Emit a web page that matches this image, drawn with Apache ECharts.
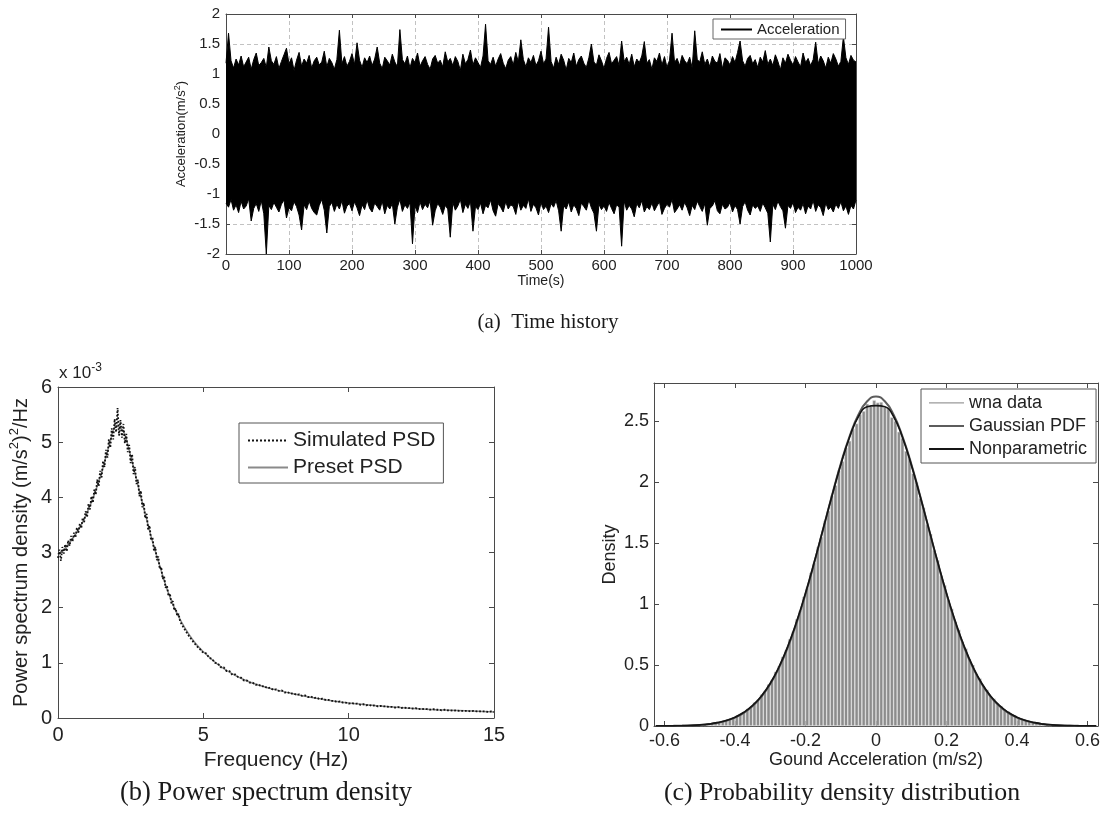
<!DOCTYPE html>
<html>
<head>
<meta charset="utf-8">
<title>Ground acceleration: time history, PSD, PDF</title>
<script src="https://cdn.jsdelivr.net/npm/echarts@6/dist/echarts.min.js"></script>
<style>
  html, body { margin: 0; padding: 0; background: #fff; }
  #chart { width: 1101px; height: 819px; }
</style>
</head>
<body>
<div id="chart"></div>
<script>
// (a) time history, read as upper / lower envelope every 4 s
const timeStep = 4;
const accUpper = [
  1.18,1.68,1.22,1.10,1.25,1.15,1.30,1.12,1.20,1.28,
  1.08,1.24,1.35,1.14,1.19,1.26,1.11,1.45,1.22,1.16,
  1.29,1.09,1.21,1.32,1.43,1.17,1.27,1.06,1.23,1.36,
  1.13,1.25,1.18,1.31,1.10,1.22,1.28,1.15,1.20,1.38,
  1.12,1.26,1.19,1.08,1.24,1.73,1.17,1.29,1.13,1.21,
  1.34,1.16,1.52,1.23,1.11,1.27,1.19,1.30,1.14,1.25,
  1.45,1.18,1.09,1.28,1.22,1.15,1.33,1.20,1.12,1.74,
  1.24,1.17,1.30,1.10,1.26,1.19,1.35,1.13,1.22,1.29,
  1.16,1.08,1.25,1.31,1.18,1.23,1.12,1.37,1.20,1.26,
  1.14,1.29,1.21,1.06,1.33,1.17,1.24,1.40,1.15,1.27,
  1.19,1.11,1.30,1.83,1.22,1.16,1.28,1.13,1.25,1.34,
  1.18,1.09,1.23,1.29,1.15,1.36,1.20,1.57,1.24,1.12,
  1.27,1.19,1.31,1.14,1.22,1.38,1.17,1.25,1.78,1.21,
  1.10,1.28,1.16,1.33,1.23,1.07,1.26,1.19,1.35,1.13,
  1.24,1.30,1.18,1.11,1.27,1.50,1.20,1.15,1.32,1.22,
  1.09,1.26,1.36,1.17,1.23,1.29,1.14,1.55,1.21,1.28,
  1.16,1.33,1.12,1.25,1.19,1.30,1.54,1.18,1.24,1.08,
  1.27,1.21,1.35,1.15,1.29,1.11,1.23,1.68,1.19,1.26,
  1.14,1.31,1.22,1.17,1.28,1.10,1.72,1.24,1.20,1.37,
  1.16,1.25,1.12,1.30,1.21,1.18,1.34,1.09,1.27,1.23,
  1.15,1.29,1.19,1.36,1.55,1.22,1.13,1.26,1.31,1.17,
  1.24,1.11,1.28,1.20,1.39,1.16,1.25,1.14,1.32,1.21,
  1.07,1.27,1.18,1.33,1.23,1.15,1.29,1.20,1.12,1.35,
  1.19,1.26,1.14,1.24,1.53,1.17,1.30,1.22,1.10,1.28,
  1.18,1.34,1.25,1.13,1.21,1.62,1.27,1.16,1.31,1.23,
  1.20
];
const accLower = [
  -1.15,-1.22,-1.09,-1.27,-1.18,-1.31,-1.12,-1.25,-1.20,-1.08,
  -1.45,-1.24,-1.16,-1.29,-1.11,-1.33,-2.00,-1.19,-1.26,-1.14,
  -1.22,-1.30,-1.17,-1.10,-1.40,-1.23,-1.28,-1.13,-1.21,-1.35,
  -1.60,-1.18,-1.26,-1.12,-1.24,-1.31,-1.35,-1.19,-1.09,-1.27,
  -1.65,-1.21,-1.14,-1.29,-1.17,-1.25,-1.11,-1.32,-1.20,-1.16,
  -1.28,-1.13,-1.23,-1.36,-1.18,-1.26,-1.10,-1.24,-1.30,-1.15,
  -1.21,-1.27,-1.12,-1.33,-1.19,-1.25,-1.16,-1.50,-1.22,-1.09,
  -1.29,-1.18,-1.24,-1.14,-1.83,-1.20,-1.31,-1.13,-1.26,-1.17,
  -1.23,-1.11,-1.52,-1.28,-1.16,-1.22,-1.34,-1.19,-1.25,-1.72,
  -1.14,-1.27,-1.20,-1.09,-1.31,-1.17,-1.24,-1.12,-1.62,-1.21,
  -1.26,-1.15,-1.33,-1.19,-1.23,-1.10,-1.28,-1.37,-1.16,-1.22,
  -1.30,-1.13,-1.25,-1.18,-1.21,-1.34,-1.12,-1.27,-1.19,-1.24,
  -1.08,-1.29,-1.17,-1.23,-1.35,-1.14,-1.26,-1.20,-1.31,-1.16,
  -1.22,-1.11,-1.28,-1.62,-1.19,-1.25,-1.13,-1.30,-1.18,-1.24,
  -1.36,-1.15,-1.21,-1.27,-1.10,-1.23,-1.32,-1.62,-1.17,-1.26,
  -1.20,-1.29,-1.14,-1.24,-1.33,-1.18,-1.22,-1.87,-1.12,-1.27,
  -1.19,-1.25,-1.38,-1.16,-1.23,-1.11,-1.30,-1.21,-1.26,-1.15,
  -1.28,-1.20,-1.13,-1.34,-1.24,-1.17,-1.22,-1.09,-1.31,-1.25,
  -1.18,-1.27,-1.14,-1.23,-1.36,-1.19,-1.26,-1.12,-1.21,-1.29,
  -1.16,-1.52,-1.24,-1.20,-1.11,-1.28,-1.33,-1.17,-1.25,-1.22,
  -1.14,-1.30,-1.19,-1.26,-1.50,-1.21,-1.13,-1.27,-1.35,-1.18,
  -1.24,-1.20,-1.29,-1.15,-1.23,-1.32,-1.80,-1.17,-1.26,-1.12,
  -1.21,-1.28,-1.57,-1.19,-1.24,-1.14,-1.31,-1.22,-1.27,-1.16,
  -1.33,-1.20,-1.25,-1.11,-1.29,-1.18,-1.23,-1.36,-1.15,-1.26,
  -1.22,-1.30,-1.17,-1.24,-1.13,-1.28,-1.20,-1.34,-1.19,-1.25,
  -1.10
];

// (b) PSD in units of 1e-3 (m/s^2)^2/Hz
const presetFreq = [0,0.25,0.5,0.75,1,1.25,1.5,1.75,2,2.25,2.5,2.75,3,3.25,3.5,3.75,4,4.25,4.5,4.75,5,5.5,6,6.5,7,7.5,8,9,10,11,12,13,14,15];
const presetPsd = [2.97,3.08,3.25,3.45,3.72,4.05,4.45,4.92,5.30,5.20,4.75,4.22,3.70,3.20,2.76,2.34,2.00,1.74,1.52,1.34,1.20,0.97,0.80,0.67,0.58,0.51,0.45,0.35,0.27,0.22,0.18,0.15,0.13,0.11];
const simLowStep = 0.05;            // 0 .. 4.95 Hz
const simLowPsd = [
  2.90,3.05,2.85,3.10,2.98,3.15,3.02,3.22,3.12,3.30,
  3.20,3.36,3.27,3.45,3.36,3.52,3.44,3.63,3.55,3.75,
  3.64,3.88,3.78,4.02,3.90,4.14,4.05,4.32,4.20,4.48,
  4.36,4.66,4.55,4.86,4.72,5.05,4.90,5.25,5.05,5.42,
  5.18,5.62,5.12,5.40,5.08,5.33,4.98,5.15,4.82,4.95,
  4.62,4.78,4.42,4.55,4.24,4.32,4.02,4.12,3.82,3.90,
  3.62,3.70,3.42,3.49,3.22,3.28,3.04,3.10,2.86,2.93,
  2.70,2.74,2.52,2.57,2.36,2.40,2.21,2.26,2.08,2.12,
  1.95,1.99,1.85,1.89,1.75,1.78,1.66,1.69,1.57,1.60,
  1.49,1.51,1.42,1.44,1.35,1.37,1.29,1.31,1.24,1.25
];
const simHighStart = 5, simHighStep = 0.1;   // 5 .. 15 Hz
const simHighPsd = [
  1.18,1.17,1.09,1.07,1.00,0.99,0.92,0.92,0.85,0.85,
  0.78,0.79,0.74,0.73,0.68,0.68,0.64,0.64,0.60,0.61,
  0.57,0.58,0.54,0.55,0.51,0.52,0.49,0.50,0.46,0.47,
  0.44,0.45,0.42,0.43,0.40,0.41,0.38,0.39,0.36,0.37,
  0.34,0.35,0.33,0.33,0.31,0.31,0.29,0.30,0.28,0.28,
  0.26,0.27,0.26,0.26,0.24,0.25,0.23,0.24,0.22,0.23,
  0.21,0.22,0.21,0.21,0.20,0.20,0.19,0.20,0.18,0.19,
  0.18,0.18,0.17,0.18,0.16,0.17,0.16,0.16,0.15,0.16,
  0.15,0.15,0.14,0.15,0.14,0.14,0.13,0.14,0.13,0.13,
  0.13,0.13,0.12,0.13,0.12,0.12,0.12,0.12,0.11,0.12,
  0.11
];

// (c) histogram (bin centres) and the two fitted densities
const histStart = -0.495, histStep = 0.01;
const histDensity = [
  0.010,0.014,0.016,0.023,0.026,0.034,0.038,0.050,0.056,0.072,
  0.081,0.101,0.114,0.142,0.158,0.194,0.216,0.258,0.288,0.342,
  0.379,0.445,0.490,0.568,0.620,0.712,0.772,0.876,0.945,1.058,
  1.134,1.255,1.338,1.465,1.550,1.680,1.765,1.890,1.972,2.095,
  2.168,2.280,2.336,2.435,2.478,2.555,2.580,2.640,2.620,2.668,
  2.650,2.655,2.612,2.600,2.530,2.498,2.410,2.360,2.252,2.190,
  2.070,1.995,1.866,1.790,1.652,1.575,1.440,1.360,1.230,1.155,
  1.035,0.962,0.855,0.790,0.692,0.636,0.550,0.502,0.430,0.390,
  0.330,0.298,0.248,0.225,0.185,0.166,0.135,0.120,0.096,0.085,
  0.068,0.059,0.047,0.040,0.032,0.027,0.021,0.018,0.013,0.011
];
const pdfStart = -0.625, pdfStep = 0.025;
const gaussPdf = [
  0.0003,0.0007,0.0013,0.0026,0.0048,0.0088,0.0155,0.0262,0.0433,0.0693,
  0.108,0.164,0.241,0.344,0.478,0.646,0.847,1.081,1.339,1.613,
  1.888,2.148,2.374,2.550,2.660,2.700,2.660,2.550,2.374,2.148,
  1.888,1.613,1.339,1.081,0.847,0.646,0.478,0.344,0.241,0.164,
  0.108,0.0693,0.0433,0.0262,0.0155,0.0088,0.0048,0.0026,0.0013,0.0007,
  0.0003
];
const kernelPdf = [
  0.0004,0.0008,0.0015,0.0028,0.005,0.0092,0.016,0.027,0.045,0.072,
  0.112,0.168,0.246,0.350,0.486,0.655,0.858,1.090,1.345,1.615,
  1.885,2.140,2.365,2.535,2.615,2.625,2.615,2.535,2.365,2.140,
  1.885,1.615,1.345,1.090,0.858,0.655,0.486,0.350,0.246,0.168,
  0.112,0.072,0.045,0.027,0.016,0.0092,0.005,0.0028,0.0015,0.0008,
  0.0004
];
const accelTicks = [-0.6,-0.4,-0.2,0,0.2,0.4,0.6];
const densityTicks = [0,0.5,1,1.5,2,2.5];

const sans = '"Liberation Sans", Arial, Helvetica, sans-serif';
const serif = '"Liberation Serif", "Times New Roman", serif';
const axisColor = '#4a4a4a';
const textColor = '#222';

function axis(o) {
  return {
    type: 'value',
    gridIndex: o.grid,
    position: o.pos,
    min: o.min,
    max: o.max,
    interval: o.interval,
    name: o.name || '',
    nameLocation: 'middle',
    nameGap: o.nameGap || 0,
    nameMoveOverlap: o.fixedName ? false : undefined,
    nameTextStyle: Object.assign({ color: textColor, fontFamily: sans }, o.nameStyle || {}),
    axisLine: { show: true, onZero: false, lineStyle: { color: axisColor, width: 1 } },
    axisTick: { show: true, inside: true, length: o.tick || 5, customValues: o.ticks,
                lineStyle: { color: axisColor } },
    axisLabel: { show: !!o.fontSize, fontSize: o.fontSize, margin: o.margin || 6,
                 color: textColor, fontFamily: sans, customValues: o.ticks,
                 formatter: (v) => String(+v.toFixed(4)) },
    splitLine: o.split
      ? { show: true, lineStyle: { color: '#c2c2c2', width: 1, type: [4, 3] } }
      : { show: false }
  };
}

const supStyle = (size) => ({ fontSize: size, verticalAlign: 'top', lineHeight: size, fontFamily: sans, color: textColor });
// legend icons: line only, no marker
const hideMarker = { color: 'rgba(0,0,0,0)', borderWidth: 0 };

var chart = echarts.init(document.getElementById('chart'), null, { renderer: 'canvas' });

var option = {
  animation: false,
  backgroundColor: '#fff',
  textStyle: { fontFamily: sans },
  grid: [
    { left: 226, top: 14, width: 630, height: 240, outerBoundsMode: 'none' },
    { left: 58, top: 387, width: 436, height: 331, outerBoundsMode: 'none' },
    { left: 654, top: 383, width: 444, height: 343, outerBoundsMode: 'none' }
  ],
  xAxis: [
    axis({ grid: 0, pos: 'bottom', min: 0, max: 1000, interval: 100, fontSize: 15, margin: 4, tick: 4,
           split: true, name: 'Time(s)', nameGap: 20, fixedName: true, nameStyle: { fontSize: 14 } }),
    axis({ grid: 0, pos: 'top', min: 0, max: 1000, interval: 100, tick: 4 }),
    axis({ grid: 1, pos: 'bottom', min: 0, max: 15, interval: 5, fontSize: 20, margin: 7,
           name: 'Frequency (Hz)', nameGap: 32, nameStyle: { fontSize: 21 } }),
    axis({ grid: 1, pos: 'top', min: 0, max: 15, interval: 5 }),
    axis({ grid: 2, pos: 'bottom', min: -0.63, max: 0.63, ticks: accelTicks, fontSize: 18, margin: 6,
           name: 'Gound Acceleration (m/s2)', nameGap: 24, nameStyle: { fontSize: 18 } }),
    axis({ grid: 2, pos: 'top', min: -0.63, max: 0.63, ticks: accelTicks })
  ],
  yAxis: [
    axis({ grid: 0, pos: 'left', min: -2, max: 2, interval: 0.5, fontSize: 15, margin: 6, tick: 4,
           split: true, name: 'Acceleration(m/s{sup|2})', nameGap: 36, fixedName: true,
           nameStyle: { fontSize: 13, lineHeight: 17, rich: { sup: supStyle(9) } } }),
    axis({ grid: 0, pos: 'right', min: -2, max: 2, interval: 0.5, tick: 4 }),
    axis({ grid: 1, pos: 'left', min: 0, max: 6, interval: 1, fontSize: 20, margin: 6,
           name: 'Power spectrum density (m/s{sup|2}){sup|2}/Hz', nameGap: 24,
           nameStyle: { fontSize: 20, lineHeight: 26, rich: { sup: supStyle(13) } } }),
    axis({ grid: 1, pos: 'right', min: 0, max: 6, interval: 1 }),
    axis({ grid: 2, pos: 'left', min: 0, max: 2.81, ticks: densityTicks, fontSize: 18, margin: 5,
           name: 'Density', nameGap: 35, nameStyle: { fontSize: 18 } }),
    axis({ grid: 2, pos: 'right', min: 0, max: 2.81, ticks: densityTicks })
  ],
  legend: [
    {
      left: 713, top: 19, orient: 'horizontal', selectedMode: false,
      data: ['Acceleration'],
      itemWidth: 31, itemHeight: 10,
      itemStyle: hideMarker,
      padding: [3, 6, 2, 7],
      backgroundColor: '#fff', borderColor: '#666', borderWidth: 1, borderRadius: 0,
      textStyle: { fontSize: 15, color: textColor, fontFamily: sans }
    },
    {
      left: 239, top: 423, orient: 'vertical', selectedMode: false,
      data: ['Simulated PSD', 'Preset PSD'],
      itemWidth: 40, itemHeight: 14, itemGap: 6,
      itemStyle: hideMarker,
      padding: [7, 8, 5, 8],
      backgroundColor: '#fff', borderColor: '#555', borderWidth: 1, borderRadius: 0,
      textStyle: { fontSize: 21, color: textColor, fontFamily: sans }
    },
    {
      left: 921, top: 389, orient: 'vertical', selectedMode: false,
      data: [
        { name: 'wna data', icon: 'path://M0,0L1,0M0,5.2L35,5.2L35,6.6L0,6.6ZM0,12L1,12',
          itemStyle: { color: '#9a9a9a', borderWidth: 0 } },
        'Gaussian PDF', 'Nonparametric'
      ],
      itemWidth: 35, itemHeight: 12, itemGap: 5,
      itemStyle: hideMarker,
      padding: [5, 9, 5, 7],
      backgroundColor: '#fff', borderColor: '#555', borderWidth: 1, borderRadius: 0,
      textStyle: { fontSize: 18, color: textColor, fontFamily: sans }
    }
  ],
  graphic: [
    { type: 'text', x: 548, y: 322,
      style: { text: '(a)  Time history', fontSize: 21, fontFamily: serif, fill: '#1a1a1a',
               align: 'center', verticalAlign: 'middle', textAlign: 'center', textVerticalAlign: 'middle' } },
    { type: 'text', x: 266, y: 793,
      style: { text: '(b) Power spectrum density', fontSize: 26.5, fontFamily: serif, fill: '#1a1a1a',
               align: 'center', verticalAlign: 'middle', textAlign: 'center', textVerticalAlign: 'middle' } },
    { type: 'text', x: 842, y: 793,
      style: { text: '(c) Probability density distribution', fontSize: 25.8, fontFamily: serif, fill: '#1a1a1a',
               align: 'center', verticalAlign: 'middle', textAlign: 'center', textVerticalAlign: 'middle' } },
    { type: 'text', x: 59, y: 362,
      style: { text: 'x 10{sup|-3}', fontSize: 17, lineHeight: 22, fontFamily: sans, fill: textColor,
               rich: { sup: { fontSize: 12, lineHeight: 12, verticalAlign: 'top', fill: textColor, fontFamily: sans } } } }
  ],
  series: [
    {
      type: 'line', name: 'Acceleration', xAxisIndex: 0, yAxisIndex: 0,
      data: accUpper.map((v, i) => [i * timeStep, v]),
      symbol: 'none', z: 3,
      lineStyle: { color: '#000', width: 1 }, itemStyle: { color: '#000' },
      areaStyle: { color: '#000', opacity: 1 }
    },
    {
      type: 'line', name: 'Acceleration', xAxisIndex: 0, yAxisIndex: 0,
      data: accLower.map((v, i) => [i * timeStep, v]),
      symbol: 'none', z: 3,
      lineStyle: { color: '#000', width: 1 }, itemStyle: { color: '#000' },
      areaStyle: { color: '#000', opacity: 1 }
    },
    {
      type: 'line', name: 'Preset PSD', xAxisIndex: 2, yAxisIndex: 2,
      data: presetFreq.map((f, i) => [f, presetPsd[i]]),
      smooth: 0.3, symbol: 'none',
      lineStyle: { color: '#8a8a8a', width: 1.5 }, itemStyle: { color: '#8a8a8a' }
    },
    {
      type: 'line', name: 'Simulated PSD', xAxisIndex: 2, yAxisIndex: 2,
      data: simLowPsd.map((v, i) => [+(i * simLowStep).toFixed(2), v])
        .concat(simHighPsd.map((v, i) => [+(simHighStart + i * simHighStep).toFixed(2), v])),
      symbol: 'none',
      lineStyle: { color: '#111', width: 1.8, type: 'dotted' }, itemStyle: { color: '#111' }
    },
    {
      type: 'bar', name: 'wna data', xAxisIndex: 4, yAxisIndex: 4,
      data: histDensity.map((v, i) => [+(histStart + i * histStep).toFixed(3), v]),
      barWidth: 3.52,
      itemStyle: { color: '#8c8c8c', borderColor: '#ececec', borderWidth: 0.5 }
    },
    {
      type: 'line', name: 'Gaussian PDF', xAxisIndex: 4, yAxisIndex: 4,
      data: gaussPdf.map((v, i) => [+(pdfStart + i * pdfStep).toFixed(3), v]),
      smooth: true, symbol: 'none', z: 4,
      lineStyle: { color: '#5c5c5c', width: 2 }, itemStyle: { color: '#5c5c5c' }
    },
    {
      type: 'line', name: 'Nonparametric', xAxisIndex: 4, yAxisIndex: 4,
      data: kernelPdf.map((v, i) => [+(pdfStart + i * pdfStep).toFixed(3), v]),
      smooth: true, symbol: 'none', z: 5,
      lineStyle: { color: '#151515', width: 1.7 }, itemStyle: { color: '#151515' }
    }
  ]
};

chart.setOption(option);
</script>
</body>
</html>
